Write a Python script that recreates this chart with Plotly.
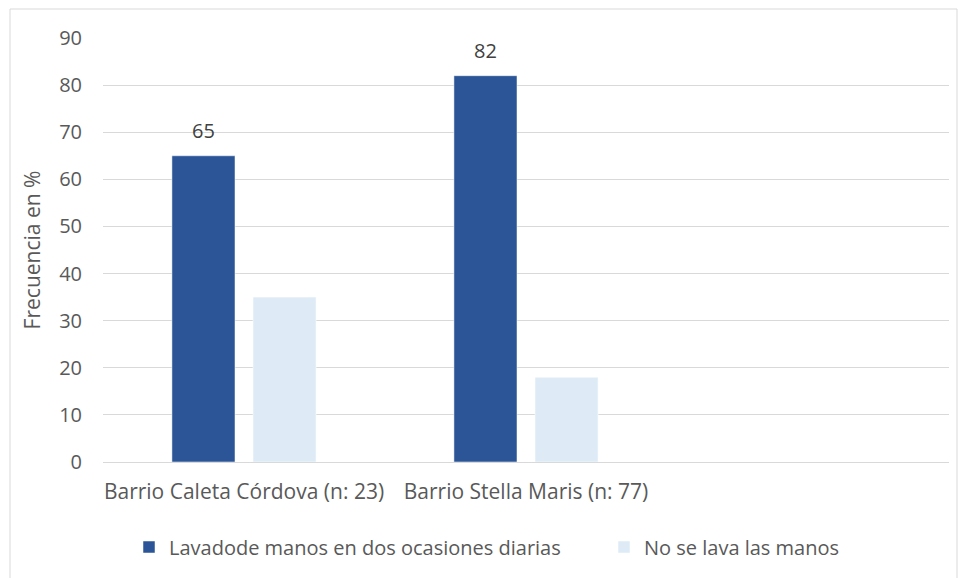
import plotly.graph_objects as go

categories = ["Barrio Caleta Córdova (n: 23)", "Barrio Stella Maris (n: 77)", ""]
series_names = ["Lavadode manos en dos ocasiones diarias", "No se lava las manos"]
lavado = [65, 82, None]
no_lava = [35, 18, None]
colors = ["#2B5597", "#DEEBF7"]

x_pos = list(range(len(categories)))
FONT = "Open Sans"
FS = 21
GRAY = "#595959"

W, H = 958, 578
ml, mr, mt, mb = 103, 9, 38, 116
pw, ph = W - ml - mr, H - mt - mb

def px_x(x):
    return (x - ml) / pw

def px_y(y):
    return 1 - (y - mt) / ph

fig = go.Figure()
fig.add_trace(go.Bar(
    x=x_pos, y=lavado, name=series_names[0], marker_color=colors[0],
    marker_line=dict(color="#FFFFFF", width=0.5), legend="legend",
))
fig.add_trace(go.Bar(
    x=x_pos, y=no_lava, name=series_names[1], marker_color=colors[1],
    marker_line=dict(color="#FFFFFF", width=0.5), legend="legend2",
))

# data labels above the first series bars (offset within group)
group_width = 1 - 0.425
slot = group_width / 2
annotations = []
for xi, v in zip(x_pos, lavado):
    if v is None:
        continue
    annotations.append(dict(
        x=xi - slot / 2, y=v, xref="x", yref="y", text=str(v), showarrow=False,
        yshift=25, yanchor="middle", xanchor="center",
        font=dict(family=FONT, size=FS - 1, color="#404040"),
    ))

leg_common = dict(orientation="h", yanchor="middle", xanchor="left",
                  font=dict(family=FONT, size=FS - 1, color=GRAY), bgcolor="rgba(0,0,0,0)")

fig.update_layout(
    width=W, height=H,
    margin=dict(l=ml, r=mr, t=mt, b=mb, autoexpand=False),
    paper_bgcolor="white", plot_bgcolor="white",
    barmode="group", bargap=0.425, bargroupgap=0.222,
    font=dict(family=FONT, size=FS, color=GRAY),
    showlegend=True,
    legend=dict(x=px_x(129), y=px_y(547), **leg_common),
    legend2=dict(x=px_x(604), y=px_y(547), **leg_common),
    annotations=annotations,
    shapes=[dict(type="rect", xref="paper", yref="paper",
                 x0=px_x(10), x1=px_x(957), y0=px_y(9), y1=px_y(590),
                 line=dict(color="#D9D9D9", width=1), fillcolor="rgba(0,0,0,0)", layer="below")],
)
fig.update_xaxes(
    range=[-0.5, 2.5], tickmode="array", tickvals=x_pos, ticktext=categories,
    showgrid=False, zeroline=False, showline=False, ticks="", automargin=False,
    ticklabelstandoff=15, tickfont=dict(family=FONT, size=FS, color=GRAY),
)
fig.update_yaxes(
    range=[0, 90], dtick=10, showgrid=True, gridcolor="#D9D9D9", gridwidth=1,
    zeroline=True, zerolinecolor="#D9D9D9", zerolinewidth=1, showline=False, automargin=False,
    ticklabelstandoff=20, tickfont=dict(family=FONT, size=FS - 1, color=GRAY),
    title=dict(text="Frecuencia en %", font=dict(family=FONT, size=FS, color=GRAY), standoff=12),
)

fig.write_html("out.html")
